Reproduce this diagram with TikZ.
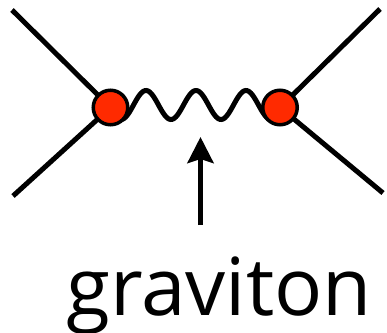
\documentclass[tikz,border=0pt]{standalone}
\usepackage{fontspec}
\setmainfont{Open Sans}
\usetikzlibrary{arrows.meta}
\definecolor{vred}{RGB}{255,42,0}
\tikzset{
  leg/.style={line width=5pt},
  vertex/.style={circle,draw=black,fill=vred,line width=3.5pt,minimum size=34.5pt,inner sep=0pt},
  wave/.style={line width=5pt},
  pointer/.style={line width=5pt,-{Stealth[length=26pt,width=26pt,inset=4pt]}}
}
\begin{document}
\begin{tikzpicture}[x=1pt,y=-1pt]
\useasboundingbox (0,0) rectangle (387,332);
\coordinate (ul) at (12,10);
\coordinate (ll) at (13,196);
\coordinate (ur) at (380,9);
\coordinate (lr) at (383,193);
\coordinate (c1) at (110.5,107.5);
\coordinate (c2) at (280,107.5);
\draw[leg] (ul) -- (c1) -- (ll);
\draw[leg] (ur) -- (c2) -- (lr);
\draw[wave] plot[domain=119:273,samples=120,smooth] (\x,{105+14.5*cos(7.2*(\x-121))});
\node[vertex] (v1) at (c1) {};
\node[vertex] (v2) at (c2) {};
\coordinate (abot) at (200.5,225);
\coordinate (atop) at (200.5,137);
\draw[pointer] (abot) -- (atop);
\node[anchor=base,inner sep=0pt,font=\fontsize{80}{96}\selectfont] (lab) at (219,315) {graviton};
\end{tikzpicture}
\end{document}
